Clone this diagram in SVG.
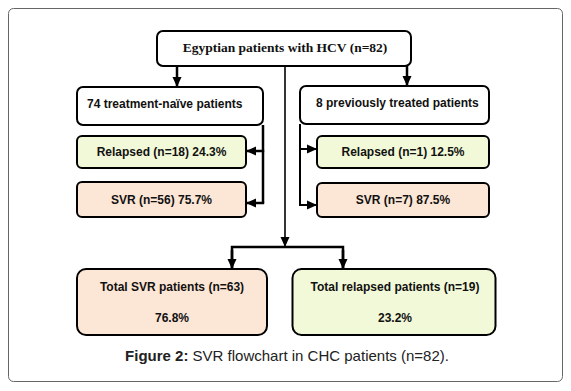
<svg xmlns="http://www.w3.org/2000/svg" width="571" height="391" viewBox="0 0 571 391">
<style>
.box{stroke:#000;stroke-width:2}
.white{fill:#fff}
.green{fill:#f2f9d8}
.peach{fill:#fce6d5}
.t{font-family:"Liberation Sans",Arial,sans-serif;font-weight:bold;font-size:12px;fill:#111}
.serif{font-family:"Liberation Serif","Times New Roman",serif;font-weight:bold;font-size:13.5px;fill:#111}
.ln{fill:none;stroke:#000;stroke-width:2.5}
.thin{fill:none;stroke:#000;stroke-width:1.6}
.cap{font-family:"Liberation Sans",Arial,sans-serif;font-size:15px;fill:#222}
</style>
<defs>
<marker id="ah" markerUnits="userSpaceOnUse" markerWidth="10" markerHeight="10" viewBox="0 0 10 10" refX="10" refY="5" orient="auto">
<path d="M0,0.5 L10,5 L0,9.5 Z" fill="#000"/>
</marker>
</defs>
<rect x="8.5" y="8.5" width="554" height="373" rx="5" fill="#fff" stroke="#666" stroke-width="1"/>
<g id="connectors">
<line class="ln" x1="177" y1="66" x2="177" y2="87" marker-end="url(#ah)"/>
<line class="ln" x1="407" y1="66" x2="407" y2="86" marker-end="url(#ah)"/>
<line class="thin" x1="285" y1="66" x2="285" y2="247" marker-end="url(#ah)"/>
<path class="ln" d="M232,269 V247 H343 V269"/>
<line class="ln" x1="232" y1="250" x2="232" y2="269" marker-end="url(#ah)"/>
<line class="ln" x1="343" y1="250" x2="343" y2="269" marker-end="url(#ah)"/>
<path class="ln" d="M263,125 V203"/>
<line class="ln" x1="264.2" y1="151" x2="246" y2="151" marker-end="url(#ah)"/>
<line class="ln" x1="264.2" y1="203" x2="246" y2="203" marker-end="url(#ah)"/>
<path class="thin" d="M300,124 V205" style="stroke-width:2"/>
<line class="thin" x1="299" y1="149" x2="317" y2="149" style="stroke-width:2" marker-end="url(#ah)"/>
<line class="thin" x1="299" y1="205" x2="317" y2="205" style="stroke-width:2" marker-end="url(#ah)"/>
</g>
<g id="n-top">
<rect class="box white" x="157" y="31" width="254" height="35" rx="6"/>
<text class="serif" x="285" y="52" text-anchor="middle">Egyptian patients with HCV (n=82)</text>
</g>
<g id="n-naive">
<rect class="box white" x="77" y="87" width="186" height="38" rx="6"/>
<text class="t" x="87" y="108">74 treatment-naïve patients</text>
</g>
<g id="n-treated">
<rect class="box white" x="300" y="86" width="189" height="38" rx="6"/>
<text class="t" x="316" y="107">8 previously treated patients</text>
</g>
<g id="n-rel18">
<rect class="box green" x="77" y="136" width="169" height="32" rx="5"/>
<text class="t" x="161.5" y="156" text-anchor="middle">Relapsed (n=18) 24.3%</text>
</g>
<g id="n-svr56">
<rect class="box peach" x="77" y="182" width="169" height="35" rx="5"/>
<text class="t" x="161.5" y="204" text-anchor="middle">SVR (n=56) 75.7%</text>
</g>
<g id="n-rel1">
<rect class="box green" x="317" y="136" width="172" height="32" rx="5"/>
<text class="t" x="403" y="156" text-anchor="middle">Relapsed (n=1) 12.5%</text>
</g>
<g id="n-svr7">
<rect class="box peach" x="317" y="183" width="172" height="34" rx="5"/>
<text class="t" x="403" y="204" text-anchor="middle">SVR (n=7) 87.5%</text>
</g>
<g id="n-totsvr">
<rect class="box peach" x="77" y="269" width="190" height="66" rx="9"/>
<text class="t" x="172" y="291" text-anchor="middle">Total SVR patients (n=63)</text>
<text class="t" x="172" y="322" text-anchor="middle">76.8%</text>
</g>
<g id="n-totrel">
<rect class="box green" x="292.5" y="269" width="203" height="66" rx="9"/>
<text class="t" x="395" y="291" text-anchor="middle">Total relapsed patients (n=19)</text>
<text class="t" x="395" y="322" text-anchor="middle">23.2%</text>
</g>
<text class="cap" x="287" y="361" text-anchor="middle"><tspan font-weight="bold">Figure 2:</tspan> SVR flowchart in CHC patients (n=82).</text>
</svg>
